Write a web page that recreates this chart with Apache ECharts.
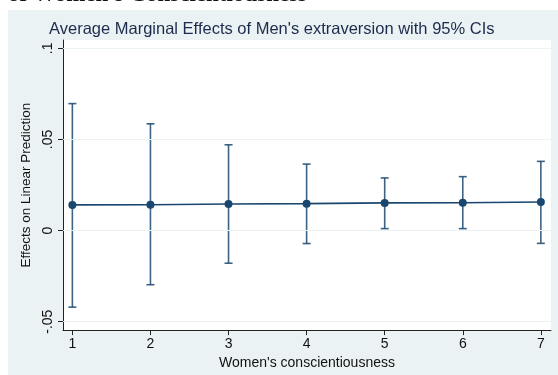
<!DOCTYPE html>
<html>
<head>
<meta charset="utf-8">
<script src="https://cdn.jsdelivr.net/npm/echarts@6/dist/echarts.min.js"></script>
<style>
  html, body { margin: 0; padding: 0; background: #ffffff; }
  #chart { width: 558px; height: 375px; }
</style>
</head>
<body>
<div id="chart"></div>
<script>
// Women's conscientiousness levels
const categories = [1, 2, 3, 4, 5, 6, 7];
// Average marginal effect of men's extraversion at each level
const effects = [0.0141, 0.0142, 0.0146, 0.0148, 0.0152, 0.0153, 0.0157];
// 95% confidence interval bounds
const lowerCI = [-0.0420, -0.0297, -0.0179, -0.0071, 0.0011, 0.0011, -0.0070];
const upperCI = [0.0697, 0.0586, 0.0471, 0.0365, 0.0289, 0.0296, 0.0380];
// Axis ticks
const yTicks = [-0.05, 0, 0.05, 0.1];
const xTicks = [1, 2, 3, 4, 5, 6, 7];

const navy = '#1a476f';
const fontFamily = '"Liberation Sans", Arial, sans-serif';

function fmtY(v) {
  if (Math.abs(v) < 1e-12) return '0';
  return String(Math.round(v * 1000) / 1000).replace('0.', '.');
}

const chart = echarts.init(document.getElementById('chart'), null, { renderer: 'canvas' });

chart.setOption({
  animation: false,
  backgroundColor: '#ffffff',
  textStyle: { fontFamily: fontFamily },
  graphic: [
    {
      type: 'rect', z: -10, silent: true,
      shape: { x: 8, y: 10, width: 550, height: 365 },
      style: { fill: '#eaf2f3' }
    },
    {
      type: 'text', z: 10, silent: true,
      x: 8, y: 7,
      style: {
        text: "of Women's Conscientiousness",
        fill: '#111111',
        font: 'bold 23px "Liberation Serif", "Times New Roman", serif',
        verticalAlign: 'bottom'
      }
    }
  ],
  title: {
    text: "Average Marginal Effects of Men's extraversion with 95% CIs",
    left: 44, top: 16,
    textStyle: { color: '#1c2b4d', fontSize: 16.5, fontWeight: 'normal', fontFamily: fontFamily }
  },
  grid: {
    left: 63, right: 7, top: 40, bottom: 44,
    show: true, backgroundColor: '#ffffff', borderWidth: 0
  },
  xAxis: {
    type: 'value',
    min: 0.88, max: 7.13,
    name: "Women's conscientiousness",
    nameLocation: 'middle', nameGap: 21,
    nameTextStyle: { color: '#111111', fontSize: 14, fontFamily: fontFamily },
    axisLine: { show: true, onZero: false, lineStyle: { color: '#222222', width: 1 } },
    axisTick: { show: true, length: 5, customValues: xTicks, lineStyle: { color: '#222222' } },
    axisLabel: { customValues: xTicks, color: '#111111', fontSize: 14, margin: 7, fontFamily: fontFamily },
    splitLine: { show: false }
  },
  yAxis: {
    type: 'value',
    min: -0.0546, max: 0.1046,
    name: 'Effects on Linear Prediction',
    nameLocation: 'middle', nameGap: 28, nameRotate: 90,
    nameTextStyle: { color: '#111111', fontSize: 13.5, fontFamily: fontFamily },
    axisLine: { show: true, onZero: false, lineStyle: { color: '#222222', width: 1 } },
    axisTick: { show: true, length: 5, customValues: yTicks, lineStyle: { color: '#222222' } },
    axisLabel: {
      customValues: yTicks, rotate: 90, margin: 8,
      color: '#111111', fontSize: 14, fontFamily: fontFamily,
      formatter: fmtY
    },
    splitLine: { show: false }
  },
  series: [
    {
      // horizontal gridlines at each y tick
      type: 'line', data: [], silent: true,
      markLine: {
        silent: true, symbol: 'none', label: { show: false },
        lineStyle: { color: '#eaf2f3', width: 1, type: 'solid' },
        data: yTicks.map(v => ({ yAxis: v }))
      }
    },
    {
      // confidence interval whiskers with caps
      type: 'custom',
      data: categories.map((c, i) => [c, lowerCI[i], upperCI[i]]),
      renderItem: function (params, api) {
        const x = api.value(0);
        const lo = api.coord([x, api.value(1)]);
        const hi = api.coord([x, api.value(2)]);
        const cap = 4;
        const style = { stroke: navy, lineWidth: 1.6, opacity: 0.85 };
        return {
          type: 'group',
          children: [
            { type: 'line', shape: { x1: lo[0], y1: lo[1], x2: hi[0], y2: hi[1] }, style: style },
            { type: 'line', shape: { x1: lo[0] - cap, y1: lo[1], x2: lo[0] + cap, y2: lo[1] }, style: style },
            { type: 'line', shape: { x1: hi[0] - cap, y1: hi[1], x2: hi[0] + cap, y2: hi[1] }, style: style }
          ]
        };
      },
      z: 3
    },
    {
      type: 'line',
      data: categories.map((c, i) => [c, effects[i]]),
      symbol: 'circle', symbolSize: 8,
      lineStyle: { color: navy, width: 1.6 },
      itemStyle: { color: navy },
      z: 4
    }
  ]
});
</script>
</body>
</html>
